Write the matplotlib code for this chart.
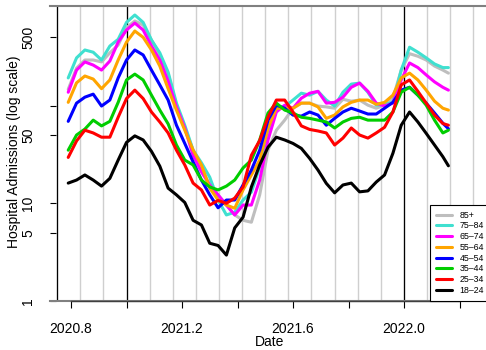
import numpy as np
import matplotlib
matplotlib.use("Agg")
import matplotlib.pyplot as plt
from matplotlib.ticker import NullLocator

plt.rcParams['font.family'] = ['Liberation Sans', 'DejaVu Sans']

#~~~~~~~~ data ~~~~~~~~
dates = [2020.79, 2020.82, 2020.85, 2020.88, 2020.91, 2020.94, 2020.97, 2021.00,
         2021.03, 2021.06, 2021.09, 2021.12, 2021.15, 2021.18, 2021.21, 2021.24,
         2021.27, 2021.30, 2021.33, 2021.36, 2021.39, 2021.42, 2021.45, 2021.48,
         2021.51, 2021.54, 2021.57, 2021.60, 2021.63, 2021.66, 2021.69, 2021.72,
         2021.75, 2021.78, 2021.81, 2021.84, 2021.87, 2021.90, 2021.93, 2021.96,
         2021.99, 2022.02, 2022.05, 2022.08, 2022.11, 2022.14, 2022.16]

age_85 = [147, 242, 293, 293, 280, 347, 417, 627, 735, 668, 469, 330, 210, 101, 59, 35,
          23, 15.4, 12.2, 9.6, 7.6, 6.7, 6.4, 12.2, 35, 56, 71, 94, 106, 106, 99, 97,
          94, 116, 111, 114, 101, 94, 101, 119, 231, 340, 320, 293, 254, 231, 215]
age_75 = [192, 308, 371, 352, 293, 407, 477, 711, 846, 711, 469, 347, 220, 106, 63, 35,
          26, 18.5, 10.8, 7.6, 8.1, 10.8, 13, 23.5, 56, 94, 97, 114, 134, 128, 140, 114,
          99, 137, 166, 170, 137, 101, 103, 108, 231, 396, 352, 308, 267, 245, 245]
age_65 = [137, 231, 280, 260, 231, 286, 447, 594, 700, 594, 407, 293, 178, 97, 59, 31,
          21, 15.4, 12.2, 9.6, 7.6, 9.6, 9.6, 17.3, 44.5, 86, 101, 94, 119, 134, 140, 106,
          108, 122, 154, 170, 140, 106, 99, 106, 183, 273, 245, 206, 175, 154, 144]
age_55 = [108, 171, 201, 187, 149, 183, 293, 447, 580, 500, 371, 254, 149, 90, 56, 35,
          24.7, 14.3, 10.8, 9.6, 8.9, 13.7, 19.5, 27.7, 59, 94, 94, 94, 106, 106, 97, 74,
          80, 97, 108, 114, 114, 103, 108, 128, 192, 215, 183, 144, 111, 94, 90]
age_45 = [69, 106, 122, 131, 99, 114, 192, 293, 371, 330, 231, 163, 114, 63, 41, 26.5,
          17.3, 12.2, 9, 10.8, 10.8, 15.4, 21.9, 35, 71, 101, 94, 80, 78, 86, 80, 63,
          74, 86, 94, 88, 82, 82, 94, 108, 144, 154, 128, 106, 84, 66, 58]
age_35 = [35, 50, 57.5, 71, 62, 69, 108, 183, 210, 183, 128, 90, 65, 39.5, 27.7, 24.7,
          17.3, 14.7, 13.7, 15, 17.3, 23, 27.7, 44.5, 84, 106, 90, 84, 76, 74, 71, 68,
          59, 68, 74, 76, 71, 71, 71, 86, 137, 154, 128, 101, 71, 52.5, 56]
age_25 = [29.5, 43.5, 56, 52.5, 47.5, 47.5, 76, 118, 144, 118, 86, 68, 52.5, 35, 24.7, 16.1,
          13.7, 9.6, 10.7, 10, 11.3, 14.7, 31, 44, 76, 114, 114, 86, 62, 57, 55, 52.5,
          39.5, 46.5, 59, 50, 46.5, 52.5, 60, 86, 163, 183, 140, 106, 80, 65.5, 63]
age_18 = [16.1, 17.3, 19.5, 17.3, 15, 18, 27.7, 42, 49, 44.5, 34, 24, 14.3, 12.2, 10.2, 6.7,
          6, 3.9, 3.7, 2.95, 5.6, 7.2, 14.7, 24.7, 37.5, 47.5, 44.5, 41, 36.5, 28.8, 21.9, 16,
          12.8, 15.4, 16.1, 13.1, 13.4, 16.5, 19.5, 32.5, 63, 86, 68, 52, 39.5, 30, 24.2]

groups = ["85+", "75\u201384", "65\u201374", "55\u201364", "45\u201354", "35\u201344", "25\u201334", "18\u201324"]
series = [age_85, age_75, age_65, age_55, age_45, age_35, age_25, age_18]
colours = ["#BEBEBE", "#40E0D0", "#FF00FF", "#FFA500", "#0000FF", "#00CD00", "#FF0000", "#000000"]

y_ticks = [1, 5, 10, 50, 100, 500]
y_labels = ["1", "5", "10", "50", "", "500"]
x_ticks = [2020.8, 2021.0, 2021.2, 2021.4, 2021.6, 2021.8, 2022.0, 2022.2]
x_labels = ["2020.8", "", "2021.2", "", "2021.6", "", "2022.0", ""]
#~~~~~~~~~~~~~~~~~~~~~~~~~~~~~~~~~~~~~~~~~~~~~~

fig = plt.figure(figsize=(4.86, 3.5), dpi=100)
ax = fig.add_axes([50/486, 49/350, 440/486, 295/350])
ax.set_yscale('log')
ax.set_xlim(2021 + (50 - 126.5)/277.5, 2021 + (490 - 126.5)/277.5)
ax.set_ylim(1, 1046)

# month lines, black ones at Oct 2020 and each new year
for m in np.arange(2020.75, 2022.30, 1/12):
    ax.axvline(m, color='#cfcfcf', lw=1.0, zorder=1)
for b in [2020.75, 2021.0, 2022.0]:
    ax.axvline(b, color='black', lw=0.9, zorder=1.5)

for lab, vals, col in zip(groups, series, colours):
    ax.plot(dates, vals, color=col, lw=2.2, label=lab, zorder=3,
            solid_joinstyle='round', solid_capstyle='round')

for s in ['left', 'right']:
    ax.spines[s].set_visible(False)
for s in ['top', 'bottom']:
    ax.spines[s].set_color('#808080')
    ax.spines[s].set_linewidth(1.5)
ax.plot([2020.8, 2022.2], [1, 1], color='#404040', lw=1, clip_on=False, zorder=4)

ax.yaxis.set_minor_locator(NullLocator())
ax.set_yticks(y_ticks)
ax.set_yticklabels(y_labels)
ax.set_xticks(x_ticks)
ax.set_xticklabels(x_labels)
ax.tick_params(axis='y', direction='in', length=4.3, width=0.8, pad=10.5, labelsize=10)
ax.tick_params(axis='x', direction='out', length=5, width=0.8, pad=10, labelsize=10)
plt.setp(ax.get_yticklabels(), rotation=90, va='center')

fig.text(14/486, 1 - 152/350, 'Hospital Admissions (log scale)', rotation=90,
         ha='center', va='center', fontsize=10)
fig.text(270/486, 1 - 342/350, 'Date', ha='center', va='center', fontsize=10)

leg = ax.legend(loc='lower right', bbox_to_anchor=(1, 0), borderaxespad=0, fontsize=6.3,
                frameon=True, fancybox=False, edgecolor='black', framealpha=1,
                handlelength=1.8, handletextpad=0.9, labelspacing=0.2, borderpad=0.7)
leg.get_frame().set_linewidth(0.8)
leg.set_zorder(5)

fig.savefig('out.png', dpi=100)
